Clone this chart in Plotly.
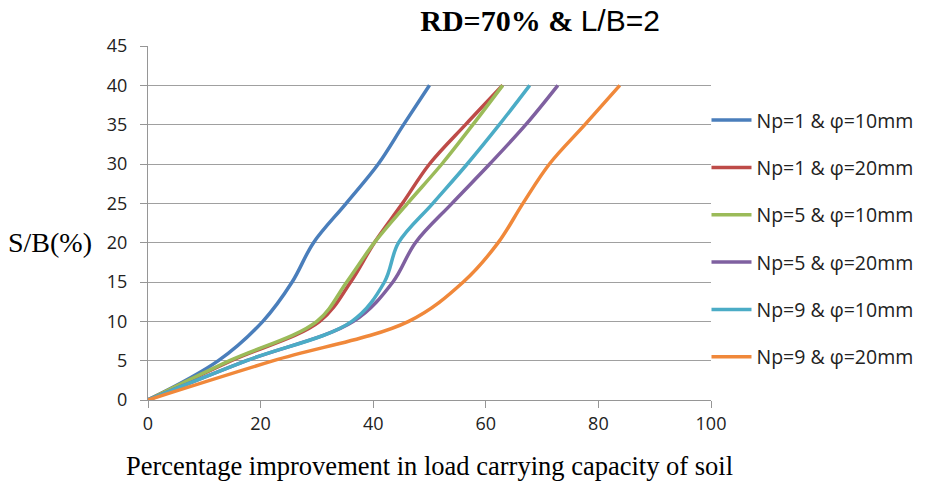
import plotly.graph_objects as go

sb_levels = [0, 5, 10, 15, 20, 25, 30, 35, 40]
series_names = [
    "Np=1 & φ=10mm",
    "Np=1 & φ=20mm",
    "Np=5 & φ=10mm",
    "Np=5 & φ=20mm",
    "Np=9 & φ=10mm",
    "Np=9 & φ=20mm",
]
np1_phi10 = [0, 12.5, 20.4, 25.6, 29.4, 35.2, 40.9, 45.4, 50]
np1_phi20 = [0, 14.8, 30.5, 36, 40.2, 45.2, 50.0, 56.4, 63]
np5_phi10 = [0, 14.5, 30, 35.3, 40.2, 46.1, 52.2, 57.7, 63]
np5_phi20 = [0, 17.5, 36.5, 43.5, 47.5, 54, 60.7, 67.1, 72.8]
np9_phi10 = [0, 17.5, 36.2, 42, 44.5, 50.6, 56.7, 62.4, 67.8]
np9_phi20 = [0, 22.3, 46.3, 56, 62.2, 66.6, 71.3, 77.6, 83.8]
series_values = [np1_phi10, np1_phi20, np5_phi10, np5_phi20, np9_phi10, np9_phi20]
colors = ["#4A7EBB", "#BE4B48", "#9BBB59", "#7F60A0", "#4BACC6", "#F0883A"]

x_ticks = [0, 20, 40, 60, 80, 100]
y_ticks = [0, 5, 10, 15, 20, 25, 30, 35, 40, 45]

fig = go.Figure()
for i, (name, xs, c) in enumerate(zip(series_names, series_values, colors)):
    fig.add_trace(go.Scatter(
        x=xs, y=sb_levels, name=name, mode="lines",
        line=dict(color=c, width=3.5, shape="spline", smoothing=1.0),
        legendgroup=f"g{i}",
    ))

sans = "Open Sans, Liberation Sans, sans-serif"
serif = "Liberation Serif, Times New Roman, serif"

fig.update_layout(
    width=936, height=489,
    paper_bgcolor="white", plot_bgcolor="white",
    margin=dict(l=148, r=225, t=46, b=89),
    title=dict(
        text="<b>RD=70% &</b> <span style='font-family:Liberation Sans, sans-serif;font-weight:normal'>L/B=2</span>",
        x=0.577, xanchor="center", y=0.958, yanchor="middle",
        font=dict(family=serif, size=30, color="black"),
    ),
    showlegend=True,
    legend=dict(
        x=0.992, xanchor="left", y=0.845, yanchor="top",
        font=dict(family=sans, size=19.5, color="#222"),
        tracegroupgap=19, itemwidth=40,
        bgcolor="rgba(0,0,0,0)",
    ),
    xaxis=dict(
        range=[0, 100], tickvals=x_ticks,
        showgrid=False, zeroline=False,
        showline=True, linecolor="#969696", linewidth=1.3,
        ticks="outside", ticklen=7, tickcolor="#969696", tickwidth=1.3,
        tickfont=dict(family=sans, size=18, color="#222"),
        title=dict(text="Percentage improvement in load carrying capacity of soil",
                   font=dict(family=serif, size=26.5, color="black"), standoff=22),
    ),
    yaxis=dict(
        range=[0, 45], tickvals=y_ticks,
        showgrid=True, gridcolor="#a0a0a0", gridwidth=1.3,
        zeroline=False,
        showline=True, linecolor="#969696", linewidth=1.3,
        ticks="outside", ticklen=7, tickcolor="#969696", tickwidth=1.3,
        tickfont=dict(family=sans, size=18, color="#222"),
        ticklabelstandoff=9,
    ),
    annotations=[dict(
        text="S/B(%)", xref="paper", yref="paper", x=-0.253, y=0.445,
        xanchor="left", yanchor="middle", showarrow=False,
        font=dict(family=serif, size=28, color="black"),
    )],
)

fig.write_html("out.html")
